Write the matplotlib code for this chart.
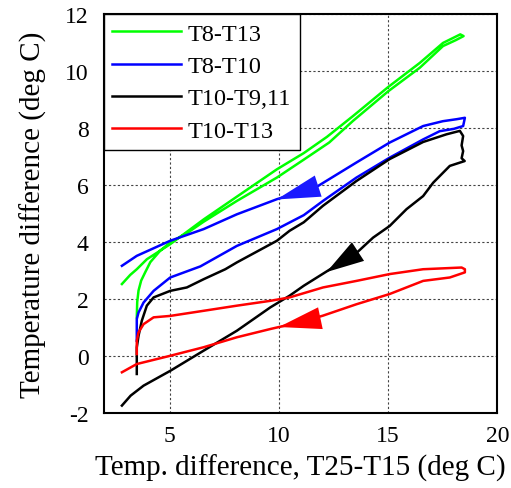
import numpy as np
import matplotlib
matplotlib.use('Agg')
import matplotlib.pyplot as plt

plt.rcParams['font.family'] = ['Liberation Serif', 'DejaVu Serif']
plt.rcParams['axes.unicode_minus'] = False

# T8-T13 (green): heating branch then cooling branch
greenX = [3.50, 3.52, 3.58, 3.70, 3.89, 4.12, 4.57, 5.03, 5.80, 6.56, 8.08, 9.91, 11.14,
          12.30, 13.39, 15.00, 16.45, 17.51, 18.10, 18.45,
          18.30, 17.51, 16.45, 15.00, 13.39, 12.20, 11.14, 9.91, 8.08, 6.56, 5.03, 3.96,
          3.50, 3.20, 2.82]
greenY = [1.36, 1.90, 2.30, 2.65, 2.95, 3.30, 3.70, 3.99, 4.32, 4.72, 5.45, 6.27, 6.90,
          7.50, 8.26, 9.30, 10.13, 10.89, 11.10, 11.24,
          11.30, 11.00, 10.30, 9.45, 8.43, 7.70, 7.13, 6.56, 5.60, 4.80, 3.93, 3.40,
          3.05, 2.85, 2.53]

# T8-T10 (blue)
blueX = [3.50, 3.50, 3.58, 3.81, 4.27, 5.03, 6.41, 8.08, 9.91, 11.14, 12.02, 13.55, 15.07,
         16.60, 17.36, 18.00, 18.43, 18.51,
         18.13, 17.50, 16.60, 15.07, 13.55, 11.74, 9.91, 8.08, 6.56, 5.03, 3.50, 2.82]
blueY = [0.54, 1.30, 1.53, 1.88, 2.29, 2.76, 3.15, 3.87, 4.46, 4.95, 5.45, 6.27, 6.97,
         7.61, 7.90, 7.98, 8.08, 8.37,
         8.32, 8.25, 8.08, 7.50, 6.80, 5.95, 5.51, 4.98, 4.46, 4.05, 3.52, 3.17]

# T10-T9,11 (black)
blackX = [3.50, 3.50, 3.58, 3.73, 3.96, 4.27, 5.03, 5.79, 6.56, 7.55, 8.08, 9.91, 10.49,
          11.14, 12.02, 13.55, 15.07, 16.60, 17.67, 18.28, 18.43, 18.36, 18.43, 18.36,
          18.50, 17.82, 17.06, 16.60, 15.84, 15.07, 14.31, 13.62, 12.18, 11.14, 10.49,
          9.61, 8.08, 6.56, 5.03, 3.81, 3.22, 2.82]
blackY = [-0.63, 0.30, 0.71, 1.24, 1.77, 2.06, 2.29, 2.41, 2.70, 3.05, 3.29, 4.05, 4.40,
          4.70, 5.28, 6.15, 6.92, 7.52, 7.79, 7.91, 7.73, 7.40, 7.20, 6.95,
          6.85, 6.68, 6.09, 5.62, 5.16, 4.57, 4.16, 3.67, 2.97, 2.47, 2.12,
          1.71, 0.89, 0.19, -0.52, -1.04, -1.39, -1.74]

# T10-T13 (red)
redX = [3.50, 3.50, 3.58, 3.81, 4.27, 5.03, 6.56, 8.08, 9.61, 10.49, 12.02, 13.55, 15.07,
        16.60, 18.36, 18.51,
        18.51, 17.82, 16.60, 15.07, 13.55, 12.02, 11.14, 9.61, 8.08, 6.56, 5.03, 3.50, 2.82]
redY = [0.07, 0.54, 0.83, 1.12, 1.36, 1.41, 1.59, 1.77, 1.94, 2.06, 2.41, 2.64, 2.88,
        3.05, 3.11, 3.05,
        2.94, 2.76, 2.64, 2.18, 1.82, 1.42, 1.22, 0.95, 0.66, 0.31, 0.01, -0.28, -0.57]

seriesNames = ['T8-T13', 'T8-T10', 'T10-T9,11', 'T10-T13']
seriesColors = ['#00ff00', '#0000ff', '#000000', '#ff0000']

# direction arrows: sharp ends and wide ends
arrowTips = [(9.90, 5.50), (12.18, 2.95), (10.00, 1.02)]
arrowBases = [(11.80, 5.97), (13.62, 3.67), (11.90, 1.33)]
arrowColors = ['#1a1aff', '#000000', '#ff0000']

fig = plt.figure(figsize=(5.11, 4.89), dpi=100)
ax = fig.add_axes([0.2035, 0.1534, 0.77, 0.815])

allX = [greenX, blueX, blackX, redX]
allY = [greenY, blueY, blackY, redY]
for xs, ys, name, col in zip(allX, allY, seriesNames, seriesColors):
  ax.plot(xs, ys, color=col, lw=1.8, label=name)

for tip, base, col in zip(arrowTips, arrowBases, arrowColors):
  ax.annotate('', xy=tip, xytext=base,
              arrowprops=dict(arrowstyle='wedge,tail_width=0.8', color=col,
                              mutation_scale=20, shrinkA=0, shrinkB=0, lw=0))

ax.set_xlim(2, 20)
ax.set_ylim(-2, 12)
ax.set_xticks([5, 10, 15, 20])
ax.set_yticks(np.arange(-2, 13, 2))
ax.tick_params(axis='x', length=0, labelsize=17, pad=9)
ax.tick_params(axis='y', length=0, labelsize=17, pad=11)
ax.grid(True, color='#444444', linestyle=(0, (2, 2)), lw=0.8)
for sp in ax.spines.values():
  sp.set_linewidth(1.5)

ax.set_xlabel('Temp. difference, T25-T15 (deg C)', fontsize=21, labelpad=5)
ax.set_ylabel('Temperature difference (deg C)', fontsize=21, labelpad=13)

leg = ax.legend(loc='upper left', fontsize=17.5, frameon=True, fancybox=False,
                edgecolor='black', framealpha=1, borderaxespad=0,
                handlelength=2.8, handletextpad=0.3, labelspacing=0.42,
                borderpad=0.35)
leg.get_frame().set_linewidth(1.0)

plt.savefig('out.png', dpi=100)
